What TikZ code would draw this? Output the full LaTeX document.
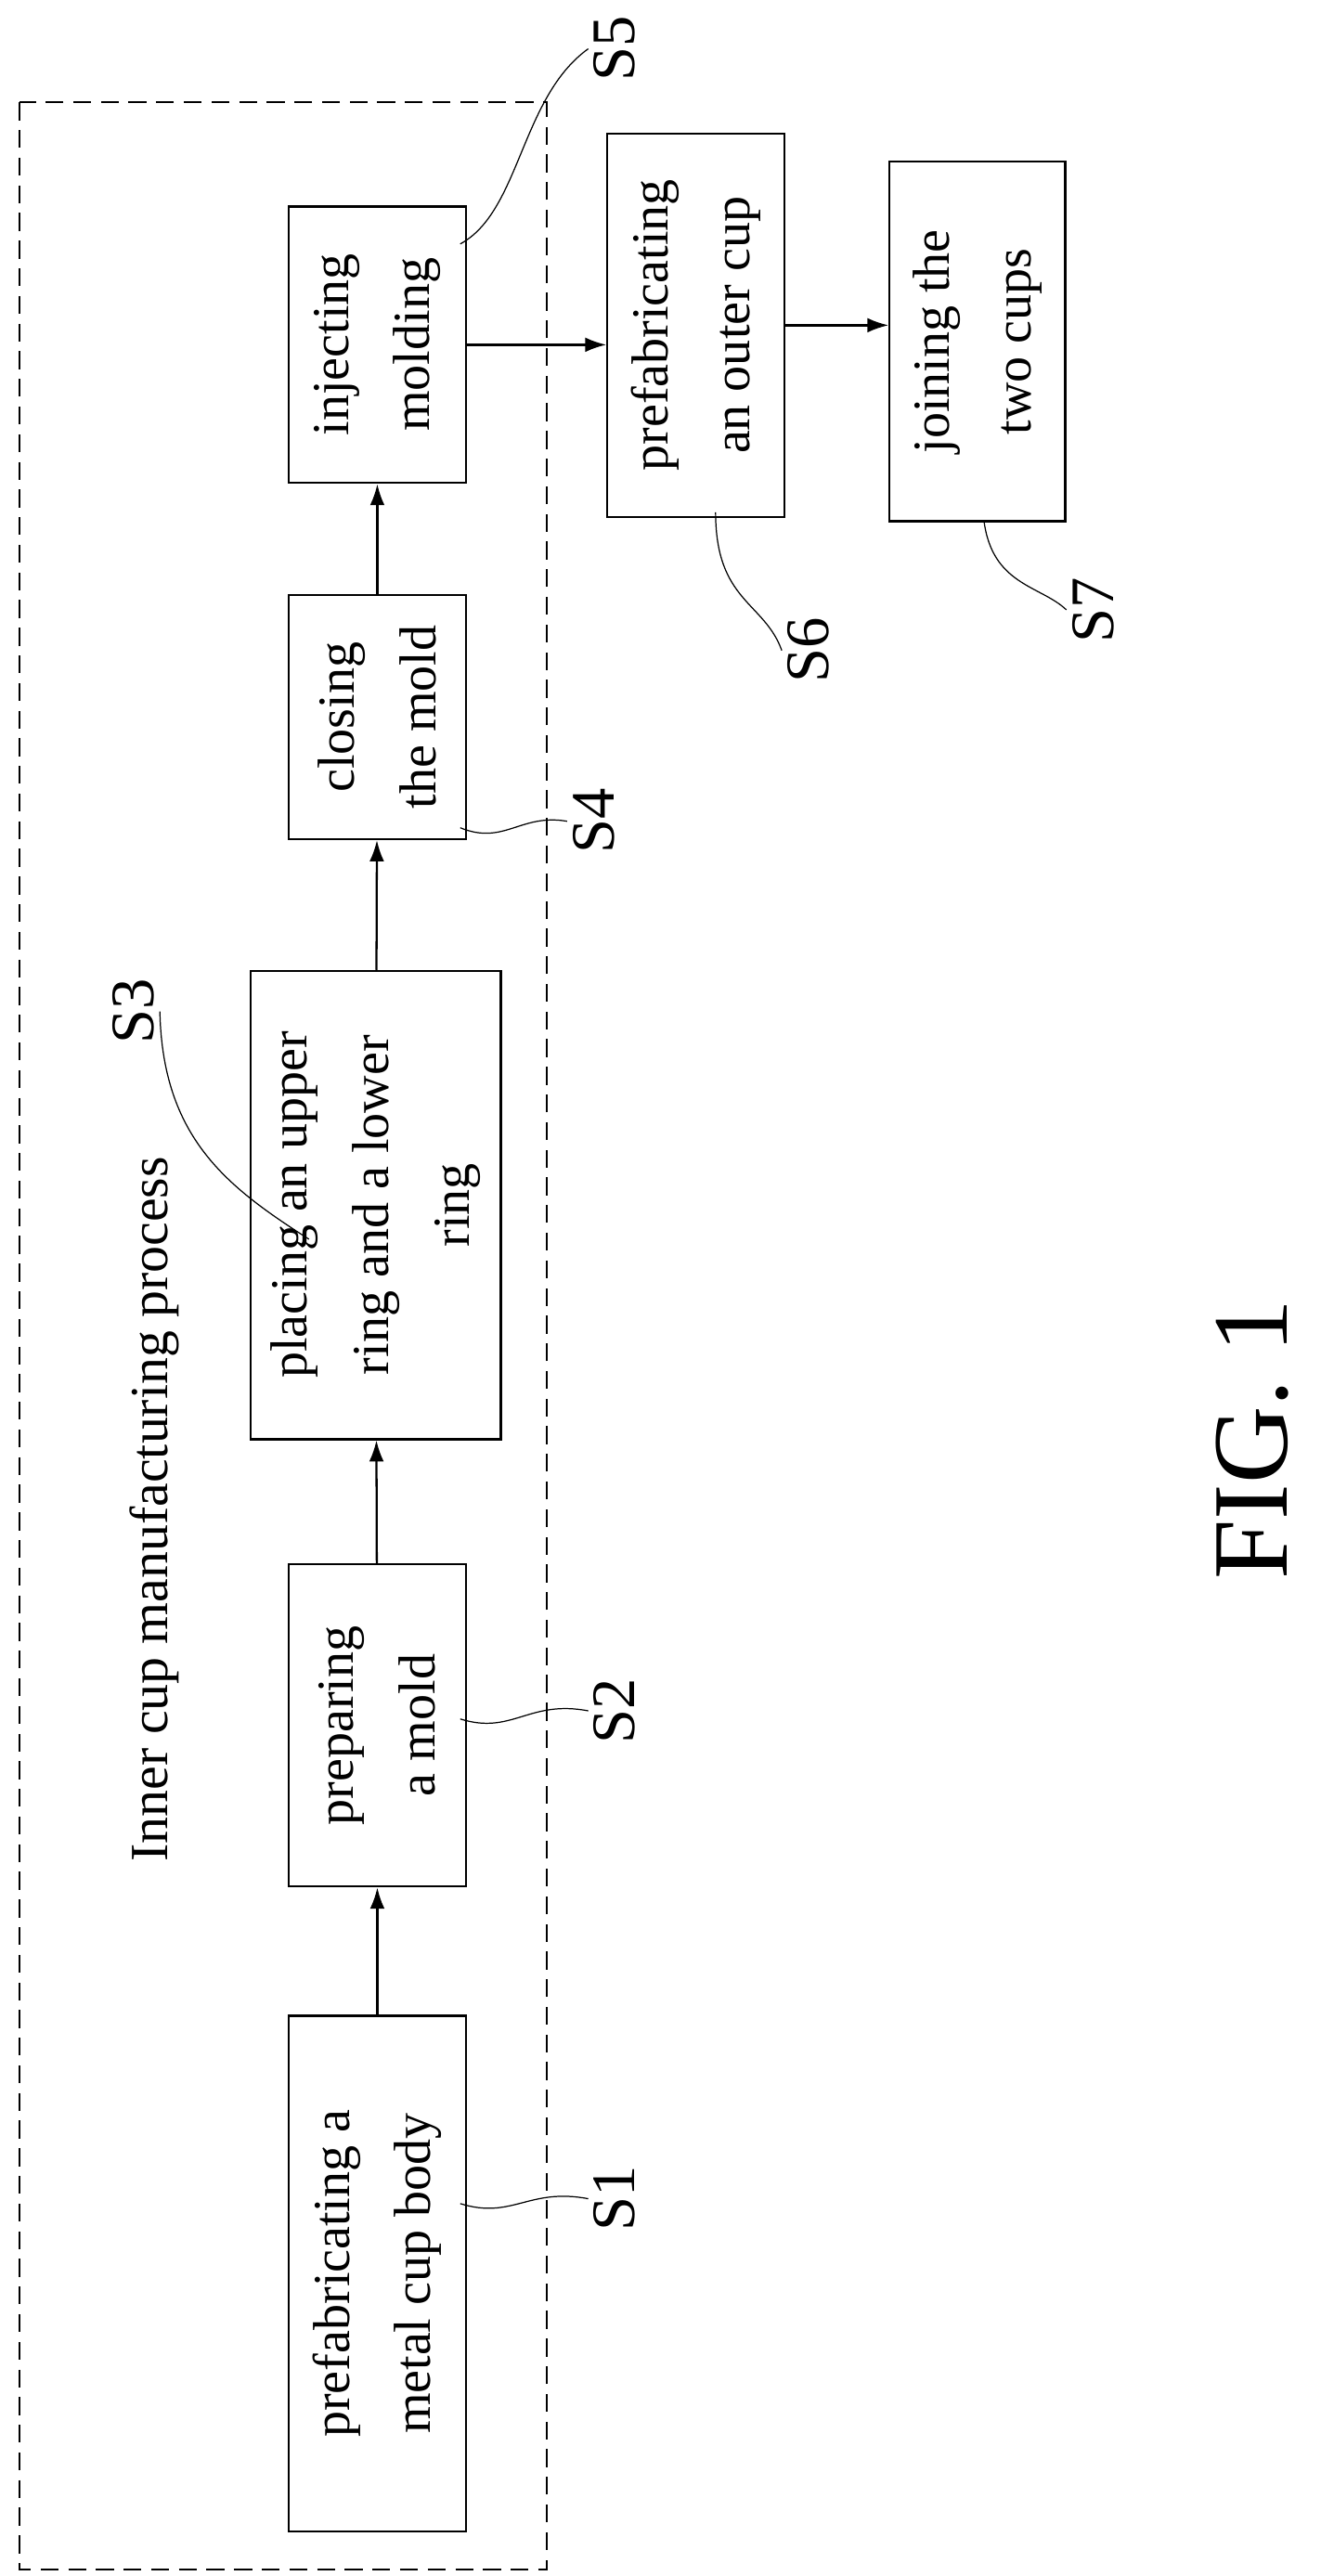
\documentclass[tikz,border=0pt]{standalone}
\usepackage{fontspec}
\setmainfont{Liberation Serif}
\usetikzlibrary{arrows.meta}
\begin{document}
\begin{tikzpicture}[x=1pt,y=-1pt,
  box/.style={draw,line width=1.3pt,rotate=90,align=center,inner sep=2pt,font=\fontsize{32}{50}\selectfont},
  lab/.style={rotate=90,font=\fontsize{38}{44}\selectfont},
  arr/.style={line width=1.3pt,-{Latex[length=13pt,width=9pt]}},
  lead/.style={line width=0.7pt}]
\useasboundingbox (0,0) rectangle (820,1584);
\draw[dashed,line width=1.2pt,dash pattern=on 11pt off 6pt] (12,63) rectangle (336,1580);
\node[lab,font=\fontsize{33}{38}\selectfont] (title) at (95,928) {Inner cup manufacturing process};
\node[box,minimum width=317,minimum height=109] (s1) at (232,1398) {prefabricating a\\metal cup body};
\node[box,minimum width=198,minimum height=109] (s2) at (232,1061) {preparing\\a mold};
\node[box,minimum width=288,minimum height=154] (s3) at (231,741) {placing an upper\\ring and a lower\\ring};
\node[box,minimum width=150,minimum height=109] (s4) at (232,441) {closing\\the mold};
\node[box,minimum width=170,minimum height=109] (s5) at (232,212) {injecting\\molding};
\node[box,minimum width=236,minimum height=109] (s6) at (428,200) {prefabricating\\an outer cup};
\node[box,minimum width=221,minimum height=108] (s7) at (601,210) {joining the\\two cups};
\draw[arr] (s1) -- (s2);
\draw[arr] (s2) -- (s3);
\draw[arr] (s3) -- (s4);
\draw[arr] (s4) -- (s5);
\draw[arr] (s5.south) -- (s6.north |- s5.south);
\draw[arr] (s6.south) -- (s7.north |- s6.south);
\node[lab] (l1) at (378,1352) {S1};
\node[lab] (l2) at (378,1052) {S2};
\node[lab] (l3) at (82,622) {S3};
\node[lab] (l4) at (365,505) {S4};
\node[lab] (l5) at (378,30) {S5};
\node[lab] (l6) at (497,400) {S6};
\node[lab] (l7) at (672,375) {S7};
\coordinate (c1) at (283,1355);
\coordinate (c2) at (283,1057);
\coordinate (c3) at (190,762);
\coordinate (c4) at (283,509);
\coordinate (c5) at (283,150);
\coordinate (c6) at (440,315);
\coordinate (c7) at (605,320);
\draw[lead] (c1) .. controls (315,1365) and (325,1345) .. (l1.north);
\draw[lead] (c2) .. controls (315,1067) and (325,1045) .. (l2.north);
\draw[lead] (l3.south) .. controls (100,700) and (140,730) .. (c3);
\draw[lead] (c4) .. controls (310,520) and (320,500) .. (l4.north);
\draw[lead] (c5) .. controls (320,130) and (320,60) .. (l5.north);
\draw[lead] (c6) .. controls (440,370) and (470,370) .. (l6.north);
\draw[lead] (c7) .. controls (610,360) and (640,360) .. (l7.north);
\node[rotate=90,font=\fontsize{66}{70}\selectfont] (fig) at (770,885) {FIG. 1};
\end{tikzpicture}
\end{document}
